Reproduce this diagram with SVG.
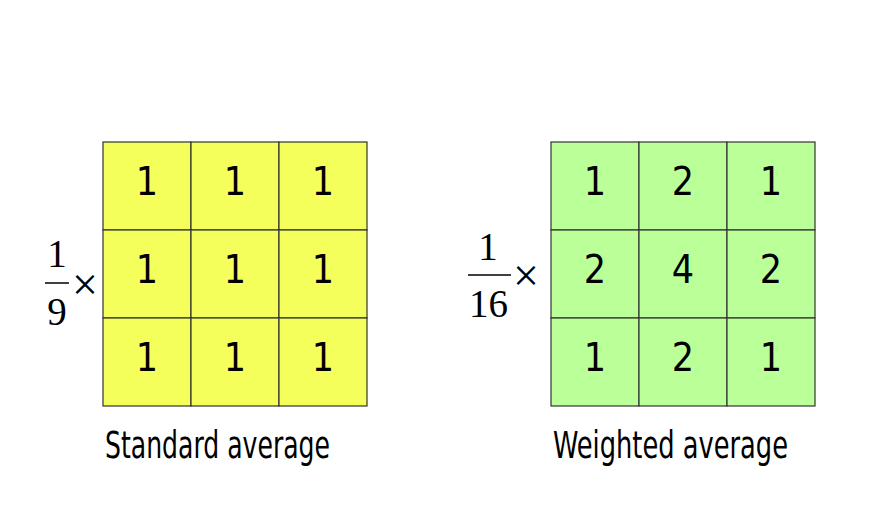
<svg xmlns="http://www.w3.org/2000/svg" width="880" height="523" viewBox="0 0 880 523">
<style>
.cell{stroke:#333;stroke-width:1.2}
.y{fill:#f4ff5c}
.g{fill:#bbff99}
.num{font-family:"DejaVu Sans Condensed","DejaVu Sans",sans-serif;font-size:39px;fill:#000;text-anchor:middle}
.frac{font-family:"Liberation Serif",serif;font-size:39px;fill:#000;text-anchor:middle}
.times{font-family:"Liberation Serif",serif;font-size:46px;fill:#000;text-anchor:middle}
.lbl{font-family:"DejaVu Sans Condensed","DejaVu Sans",sans-serif;font-size:37px;fill:#000}
.bar{stroke:#000;stroke-width:1.5}
</style>
<rect width="880" height="523" fill="#fff"/>
<g id="standard">
<g class="cell y">
<rect x="103" y="142" width="88" height="88"/><rect x="191" y="142" width="88" height="88"/><rect x="279" y="142" width="88" height="88"/>
<rect x="103" y="230" width="88" height="88"/><rect x="191" y="230" width="88" height="88"/><rect x="279" y="230" width="88" height="88"/>
<rect x="103" y="318" width="88" height="88"/><rect x="191" y="318" width="88" height="88"/><rect x="279" y="318" width="88" height="88"/>
</g>
<g class="num">
<text x="147" y="195">1</text><text x="235" y="195">1</text><text x="323" y="195">1</text>
<text x="147" y="283">1</text><text x="235" y="283">1</text><text x="323" y="283">1</text>
<text x="147" y="371">1</text><text x="235" y="371">1</text><text x="323" y="371">1</text>
</g>
<text class="frac" x="57" y="267">1</text>
<line class="bar" x1="45" y1="283" x2="69" y2="283"/>
<text class="frac" x="57" y="325">9</text>
<text class="times" x="85" y="300">×</text>
<text class="lbl" x="105" y="458" textLength="225" lengthAdjust="spacingAndGlyphs">Standard average</text>
</g>
<g id="weighted">
<g class="cell g">
<rect x="551" y="142" width="88" height="88"/><rect x="639" y="142" width="88" height="88"/><rect x="727" y="142" width="88" height="88"/>
<rect x="551" y="230" width="88" height="88"/><rect x="639" y="230" width="88" height="88"/><rect x="727" y="230" width="88" height="88"/>
<rect x="551" y="318" width="88" height="88"/><rect x="639" y="318" width="88" height="88"/><rect x="727" y="318" width="88" height="88"/>
</g>
<g class="num">
<text x="595" y="195">1</text><text x="683" y="195">2</text><text x="771" y="195">1</text>
<text x="595" y="283">2</text><text x="683" y="283">4</text><text x="771" y="283">2</text>
<text x="595" y="371">1</text><text x="683" y="371">2</text><text x="771" y="371">1</text>
</g>
<text class="frac" x="488" y="260">1</text>
<line class="bar" x1="468" y1="275" x2="511" y2="275"/>
<text class="frac" x="488.5" y="317">16</text>
<text class="times" x="526" y="291">×</text>
<text class="lbl" x="553" y="458" textLength="235" lengthAdjust="spacingAndGlyphs">Weighted average</text>
</g>
</svg>
